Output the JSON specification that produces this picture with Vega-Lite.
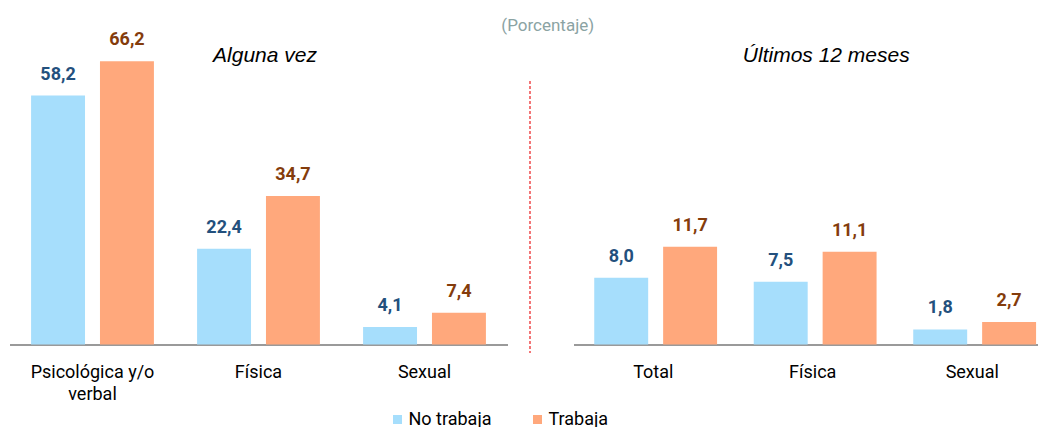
{
  "$schema": "https://vega.github.io/schema/vega-lite/v6.json",
  "padding": {"left": 9.5, "top": 16.5, "right": 0, "bottom": 0},
  "title": {"text": "(Porcentaje)", "fontSize": 17, "font": "Roboto", "fontWeight": "normal", "color": "#8BA3A3", "anchor": "middle", "dx": 17, "dy": 14.5},
  "datasets": {
    "alguna": [
      {"tipo": "Psicológica y/o verbal", "grupo": "No trabaja", "valor": 58.2},
      {"tipo": "Psicológica y/o verbal", "grupo": "Trabaja", "valor": 66.2},
      {"tipo": "Física", "grupo": "No trabaja", "valor": 22.4},
      {"tipo": "Física", "grupo": "Trabaja", "valor": 34.7},
      {"tipo": "Sexual", "grupo": "No trabaja", "valor": 4.1},
      {"tipo": "Sexual", "grupo": "Trabaja", "valor": 7.4}
    ],
    "ultimos": [
      {"tipo": "Total", "grupo": "No trabaja", "valor": 8.0},
      {"tipo": "Total", "grupo": "Trabaja", "valor": 11.7},
      {"tipo": "Física", "grupo": "No trabaja", "valor": 7.5},
      {"tipo": "Física", "grupo": "Trabaja", "valor": 11.1},
      {"tipo": "Sexual", "grupo": "No trabaja", "valor": 1.8},
      {"tipo": "Sexual", "grupo": "Trabaja", "valor": 2.7}
    ]
  },
  "spacing": 0,
  "hconcat": [
    {
      "width": 498,
      "height": 320,
      "title": {"text": "Alguna vez", "font": "Liberation Sans", "fontStyle": "italic", "fontWeight": "normal", "fontSize": 21, "color": "#000000", "dx": 6.5, "dy": 45.5, "anchor": "middle"},
      "data": {"name": "alguna"},
      "encoding": {
        "x": {"field": "tipo", "type": "nominal", "sort": ["Psicológica y/o verbal", "Física", "Sexual"],
          "scale": {"paddingInner": 0.26, "paddingOuter": 0.13},
          "axis": {"title": null, "labelAngle": 0, "ticks": false, "domainColor": "#9A9A9A", "domainWidth": 2, "labelFont": "Roboto", "labelFontSize": 18, "labelColor": "#000000", "labelPadding": 19, "labelLineHeight": 22, "labelExpr": "datum.value == 'Psicológica y/o verbal' ? ['Psicológica y/o', 'verbal'] : datum.label"}},
        "xOffset": {"field": "grupo", "sort": ["No trabaja", "Trabaja"], "scale": {"paddingInner": 0.217, "paddingOuter": 0}},
        "y": {"field": "valor", "type": "quantitative", "scale": {"domain": [0, 74.8], "nice": false}, "axis": null}
      },
      "layer": [
        {"mark": {"type": "bar"},
          "encoding": {"color": {"field": "grupo", "type": "nominal", "sort": ["No trabaja", "Trabaja"], "scale": {"domain": ["No trabaja", "Trabaja"], "range": ["#A6DEFC", "#FFA87C"]},
            "legend": {"title": null, "orient": "none", "direction": "horizontal", "legendX": 379, "legendY": 386, "symbolType": "square", "symbolSize": 81, "symbolStrokeWidth": 0, "labelFont": "Roboto", "labelFontSize": 18, "labelColor": "#000000", "columnPadding": 37, "labelOffset": 2, "padding": 0}}}},
        {"mark": {"type": "text", "baseline": "alphabetic", "dy": -16, "font": "Roboto", "fontWeight": "bold", "fontSize": 18},
          "encoding": {"text": {"field": "valor", "type": "quantitative", "format": ".1f"},
            "color": {"condition": {"test": "datum.grupo == 'No trabaja'", "value": "#23507D"}, "value": "#843C0C"}}}
      ]
    },
    {
      "width": 65.5,
      "height": 320,
      "data": {"values": [{}]},
      "mark": {"type": "rule", "color": "#F0484A", "strokeDash": [3, 2], "strokeWidth": 1.5},
      "encoding": {
        "x": {"datum": 22.5, "type": "quantitative", "scale": {"domain": [0, 65.5], "nice": false}, "axis": null},
        "y": {"datum": 263.5, "type": "quantitative", "scale": {"domain": [0, 320], "nice": false}, "axis": null},
        "y2": {"datum": -8.5}
      }
    },
    {
      "width": 478.5,
      "height": 320,
      "title": {"text": "Últimos 12 meses", "font": "Liberation Sans", "fontStyle": "italic", "fontWeight": "normal", "fontSize": 21, "color": "#000000", "dx": 13.5, "dy": 45.5, "anchor": "middle"},
      "data": {"name": "ultimos"},
      "encoding": {
        "x": {"field": "tipo", "type": "nominal", "sort": ["Total", "Física", "Sexual"],
          "scale": {"paddingInner": 0.26, "paddingOuter": 0.13},
          "axis": {"title": null, "labelAngle": 0, "ticks": false, "domainColor": "#9A9A9A", "domainWidth": 2, "labelFont": "Roboto", "labelFontSize": 18, "labelColor": "#000000", "labelPadding": 19}},
        "xOffset": {"field": "grupo", "sort": ["No trabaja", "Trabaja"], "scale": {"paddingInner": 0.217, "paddingOuter": 0}},
        "y": {"field": "valor", "type": "quantitative", "scale": {"domain": [0, 38.3], "nice": false}, "axis": null}
      },
      "layer": [
        {"mark": {"type": "bar"},
          "encoding": {"color": {"field": "grupo", "type": "nominal", "sort": ["No trabaja", "Trabaja"], "scale": {"domain": ["No trabaja", "Trabaja"], "range": ["#A6DEFC", "#FFA87C"]},
            "legend": {"title": null, "orient": "none", "direction": "horizontal", "legendX": 379, "legendY": 386, "symbolType": "square", "symbolSize": 81, "symbolStrokeWidth": 0, "labelFont": "Roboto", "labelFontSize": 18, "labelColor": "#000000", "columnPadding": 37, "labelOffset": 2, "padding": 0}}}},
        {"mark": {"type": "text", "baseline": "alphabetic", "dy": -16, "font": "Roboto", "fontWeight": "bold", "fontSize": 18},
          "encoding": {"text": {"field": "valor", "type": "quantitative", "format": ".1f"},
            "color": {"condition": {"test": "datum.grupo == 'No trabaja'", "value": "#23507D"}, "value": "#843C0C"}}}
      ]
    }
  ],
  "config": {
    "view": {"stroke": null},
    "locale": {"number": {"decimal": ",", "thousands": ".", "grouping": [3], "currency": ["", ""]}}
  }
}
